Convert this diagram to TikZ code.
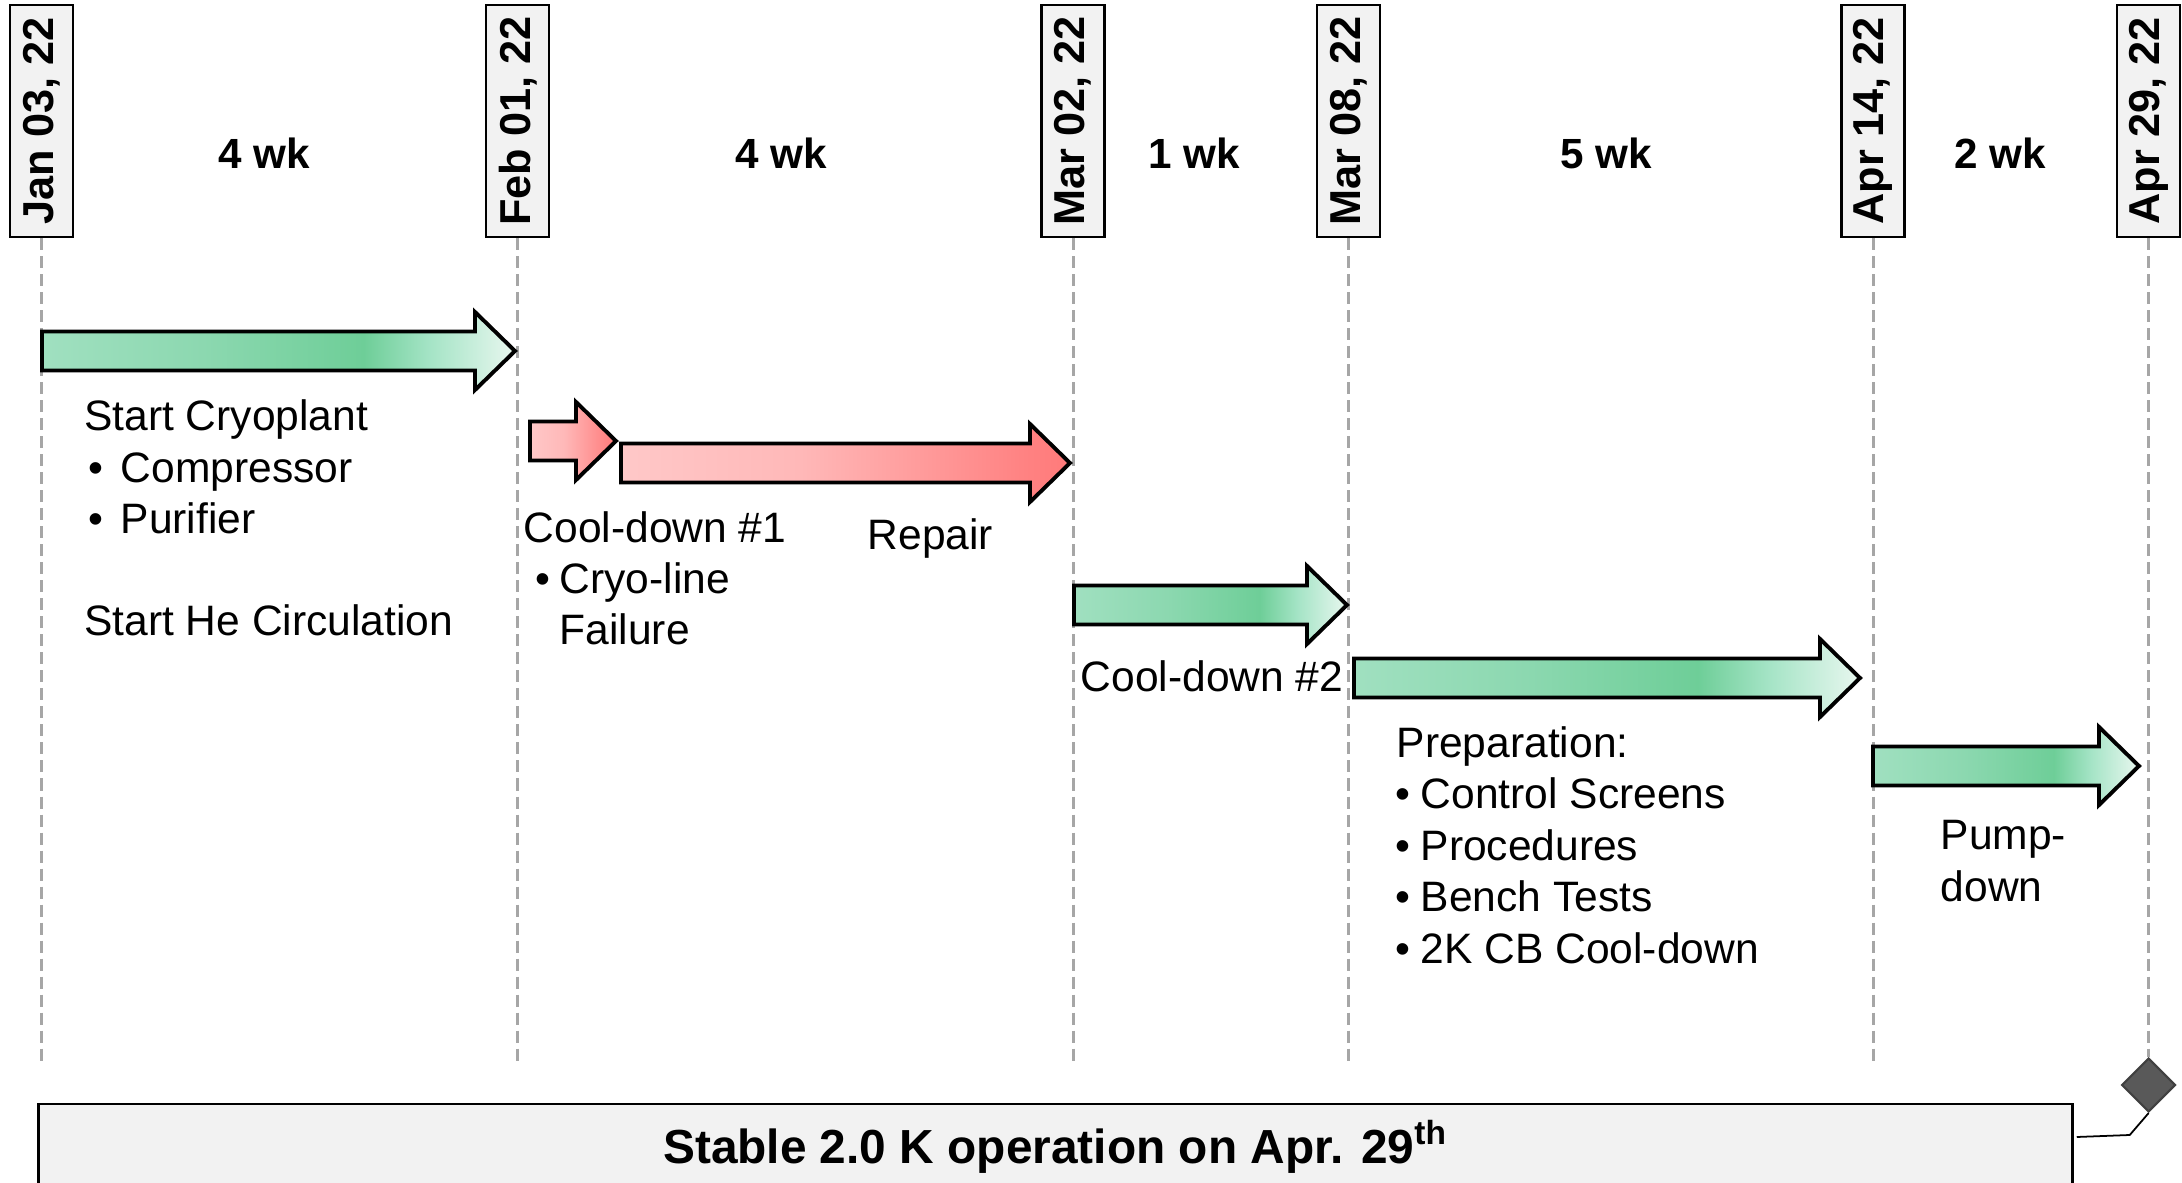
\documentclass[tikz,border=0pt]{standalone}
\usepackage{fontspec}
\setmainfont{Liberation Sans}
\usetikzlibrary{calc, shapes.geometric}

\definecolor{boxgray}{HTML}{F2F2F2}
\definecolor{tickgray}{HTML}{A6A6A6}
\definecolor{msfill}{HTML}{595959}
\definecolor{msedge}{HTML}{404040}
\definecolor{greenA}{RGB}{160,224,192}
\definecolor{greenM}{RGB}{140,216,176}
\definecolor{greenB}{RGB}{110,206,152}
\definecolor{greenD}{RGB}{165,228,198}
\definecolor{greenC}{RGB}{232,247,239}
\definecolor{redA}{RGB}{255,200,200}
\definecolor{redM}{RGB}{255,184,184}
\definecolor{redB}{RGB}{255,130,130}
\definecolor{redC}{RGB}{255,122,122}

\pgfdeclarehorizontalshading{greenbar}{100bp}{color(0bp)=(greenA); color(25bp)=(greenA);
  color(42bp)=(greenM); color(59bp)=(greenB); color(66bp)=(greenD);
  color(75bp)=(greenC); color(100bp)=(greenC)}
\pgfdeclarehorizontalshading{redbar}{100bp}{color(0bp)=(redA); color(25bp)=(redA);
  color(45bp)=(redM); color(70bp)=(redB); color(75bp)=(redC); color(100bp)=(redC)}

% A block arrow from x = #1 to the tip at x = #2,
%   its axis at height #3, filled with the shading #4

\newcommand{\blockarrow}[4]{%
  \shadedraw[arrowbar, shading=#4]
    (#1, #3-19.5) -- (#2-40, #3-19.5) -- (#2-40, #3-39) -- (#2, #3)
    -- (#2-40, #3+39) -- (#2-40, #3+19.5) -- (#1, #3+19.5) -- cycle;
}

\tikzset{
  datebox/.style = {draw, line width=0.65pt, fill=boxgray, rotate=90,
    minimum width=2.32cm, minimum height=0.63cm, inner sep=0pt,
    font=\bfseries\fontsize{12.3}{14}\selectfont},
  tickline/.style = {tickgray, line width=0.85pt, dash pattern=on 0.12cm off 0.06cm},
  arrowbar/.style = {draw=black, line width=1.1pt, line join=miter},
  duration/.style = {anchor=base, inner sep=0pt,
    font=\bfseries\fontsize{12}{14}\selectfont},
  note/.style = {anchor=base west, inner sep=0pt,
    font=\fontsize{12.1}{14.6}\selectfont}
}

\begin{document}
\begin{tikzpicture}[x=0.01cm, y=-0.01cm]

  % Page of 2182 x 1183 units, the bottom box runs off its lower edge

  \clip (0,0) rectangle (2182,1183);

  % Milestone dates along the top, each one with its dashed line

  \foreach \x/\date [count=\i] in {41.7/{Jan 03, 22}, 517.7/{Feb 01, 22},
      1073/{Mar 02, 22}, 1348.5/{Mar 08, 22}, 1873/{Apr 14, 22}, 2148.6/{Apr 29, 22}}
    \node[datebox] (d\i) at (\x,121) {\date};

  \foreach \i/\x in {1/41.7, 2/517.7, 3/1073, 4/1348.5, 5/1873}
    \draw[tickline] (d\i.west) -- (\x,1062);

  % The final milestone sits at the end of the last line

  \node[diamond, draw=msedge, fill=msfill, line width=0.6pt,
    minimum width=0.54cm, minimum height=0.54cm, inner sep=0pt] (ms) at (2148.6,1085) {};
  \draw[tickline] (d6.west) -- (ms.north);

  % Lengths of the intervals between the dates

  \node[duration] (w1) at (264,169)  {4 wk};
  \node[duration] (w2) at (781,169)  {4 wk};
  \node[duration] (w3) at (1194,169) {1 wk};
  \node[duration] (w4) at (1606,169) {5 wk};
  \node[duration] (w5) at (2000,169) {2 wk};

  % Block arrows for each phase, green went well, red did not

  \blockarrow{42}{515}{351}{greenbar}
  \blockarrow{530}{616}{441}{redbar}
  \blockarrow{621}{1070}{463}{redbar}
  \blockarrow{1074}{1347}{605}{greenbar}
  \blockarrow{1354}{1860}{678}{greenbar}
  \blockarrow{1873}{2139}{766}{greenbar}

  % Notes under the arrows, one node per line

  \node[note] (sc1) at (83.5,431)  {Start Cryoplant};
  \node[note] (sc2) at (88,482.5) {\makebox[0.32cm][l]{•}Compressor};
  \node[note] (sc3) at (88,534)  {\makebox[0.32cm][l]{•}Purifier};
  \node[note] (sc4) at (83.5,636)  {Start He Circulation};

  \node[note] (cd1) at (523,543) {Cool-down \#1};
  \node[note] (cd2) at (535,594) {\makebox[0.24cm][l]{•}Cryo-line};
  \node[note] (cd3) at (559,645) {Failure};

  \node[note] (rp)  at (867,550) {Repair};

  \node[note] (cd4) at (1080,692) {Cool-down \#2};

  \node[note] (pr1) at (1396,758) {Preparation:};
  \node[note] (pr2) at (1395,809) {\makebox[0.25cm][l]{•}Control Screens};
  \node[note] (pr3) at (1395,860) {\makebox[0.25cm][l]{•}Procedures};
  \node[note] (pr4) at (1395,911.5) {\makebox[0.25cm][l]{•}Bench Tests};
  \node[note] (pr5) at (1395,963) {\makebox[0.25cm][l]{•}2K CB Cool-down};

  \node[note] (pd1) at (1940,850) {Pump-};
  \node[note] (pd2) at (1940,902) {down};

  % Result box and its callout to the milestone

  \node[draw, line width=0.65pt, fill=boxgray, anchor=north,
    minimum width=20.33cm, inner ysep=0.22cm, text height=0.37cm, text depth=0.1cm,
    font=\bfseries\fontsize{13.6}{16}\selectfont] (stable) at (1055.5,1103)
    {Stable 2.0 K operation on Apr. 29\textsuperscript{th}};

  \draw[line width=0.5pt] ($(stable.north east)+(3,34)$) -- ++(53,-2) -- (ms.south);

\end{tikzpicture}
\end{document}
